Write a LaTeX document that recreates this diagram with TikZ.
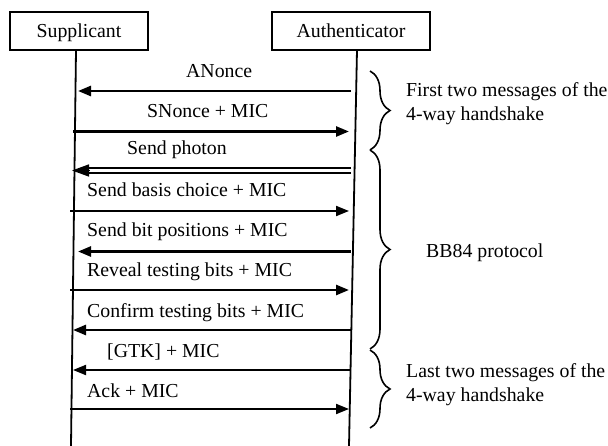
\documentclass[tikz,border=0pt]{standalone}
\usepackage{fontspec}
\setmainfont{Liberation Serif}
\usetikzlibrary{arrows.meta,decorations.pathreplacing}
\tikzset{
  lbl/.style={font=\fontsize{19.8bp}{24bp}\selectfont, inner sep=0pt, anchor=base west},
  box/.style={draw, line width=2bp, font=\fontsize{19.8bp}{24bp}\selectfont, inner sep=0pt, text height=13.4bp, text depth=0bp},
  life/.style={line width=1.8bp},
  msgthick/.style={line width=2.6bp, -{Triangle[length=13bp,width=10bp]}},
  msgthin/.style={line width=1.9bp, -{Triangle[length=13bp,width=10bp]}},
  photon/.style={line width=1.6bp},
  photonhead/.style={-{Triangle[length=17bp,width=12bp]}, line width=1.5bp},
  grp/.style={decorate, decoration={brace, amplitude=20bp}, line width=1.6bp}
}
\begin{document}
\begin{tikzpicture}[x=1bp,y=-1bp]
\useasboundingbox (0,0) rectangle (608,446);
% actors
\node[box, minimum width=138bp, minimum height=38bp] (sup) at (79,31) {Supplicant};
\node[box, minimum width=158bp, minimum height=38bp] (auth) at (351,31) {Authenticator};
% lifelines
\coordinate (supTop) at (76,50);
\coordinate (supBot) at (71,446);
\coordinate (authTop) at (357,50);
\coordinate (authBot) at (349,446);
\draw[life] (supTop) -- (supBot);
\draw[life] (authTop) -- (authBot);
% message end points
\coordinate (m1a) at (351,91);   \coordinate (m1s) at (78,91);
\coordinate (m2s) at (73,131.5); \coordinate (m2a) at (349,131.5);
\coordinate (m3a) at (351,168);  \coordinate (m3s) at (85,168);
\coordinate (m3b) at (351,173);  \coordinate (m3t) at (85,173);
\coordinate (m3c) at (89,170.5); \coordinate (m3tip) at (72,170.5);
\coordinate (m4s) at (70,211);   \coordinate (m4a) at (349,211);
\coordinate (m5a) at (351,251.5);\coordinate (m5s) at (78,251.5);
\coordinate (m6s) at (70,290);   \coordinate (m6a) at (349,290);
\coordinate (m7a) at (351,330);  \coordinate (m7s) at (73,330);
\coordinate (m8a) at (351,370);  \coordinate (m8s) at (73,370);
\coordinate (m9s) at (70,409);   \coordinate (m9a) at (349,409);
% messages
\draw[msgthick] (m1a) -- (m1s);
\draw[msgthick] (m2s) -- (m2a);
\draw[photon] (m3a) -- (m3s);
\draw[photon] (m3b) -- (m3t);
\draw[photonhead] (m3c) -- (m3tip);
\draw[msgthin] (m4s) -- (m4a);
\draw[msgthick] (m5a) -- (m5s);
\draw[msgthick] (m6s) -- (m6a);
\draw[msgthick] (m7a) -- (m7s);
\draw[msgthin] (m8a) -- (m8s);
\draw[msgthin] (m9s) -- (m9a);
% labels
\node[lbl] (l1) at (186,78) {ANonce};
\node[lbl] (l2) at (147,118) {SNonce + MIC};
\node[lbl] (l3) at (127,155) {Send photon};
\node[lbl] (l4) at (87,197) {Send basis choice + MIC};
\node[lbl] (l5) at (87,237) {Send bit positions + MIC};
\node[lbl] (l6) at (87,277) {Reveal testing bits + MIC};
\node[lbl] (l7) at (87,317) {Confirm testing bits + MIC};
\node[lbl] (l8) at (107,357) {[GTK] + MIC};
\node[lbl] (l9) at (87,397) {Ack + MIC};
% braces
\coordinate (b1t) at (370,71);  \coordinate (b1b) at (370,150);
\coordinate (b2t) at (370,150); \coordinate (b2b) at (370,349);
\coordinate (b3t) at (370,350); \coordinate (b3b) at (370,428);
\draw[grp] (b1t) -- (b1b);
\draw[grp] (b2t) -- (b2b);
\draw[grp] (b3t) -- (b3b);
% group texts
\node[lbl] (g1a) at (406,97) {First two messages of the};
\node[lbl] (g1b) at (406,121) {4-way handshake};
\node[lbl] (g2) at (426,258) {BB84 protocol};
\node[lbl] (g3a) at (406,377) {Last two messages of the};
\node[lbl] (g3b) at (406,401) {4-way handshake};
\end{tikzpicture}
\end{document}
